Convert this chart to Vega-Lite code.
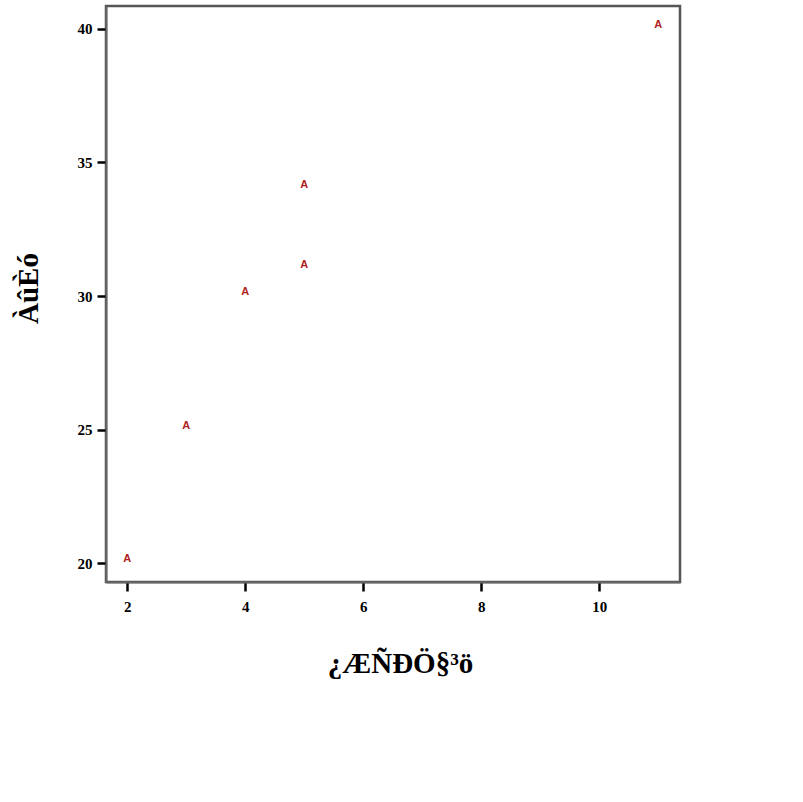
{
  "$schema": "https://vega.github.io/schema/vega-lite/v6.json",
  "autosize": "none",
  "width": 574,
  "height": 576,
  "padding": {"left": 106, "top": 6, "right": 123, "bottom": 220},
  "background": "white",
  "config": {
    "view": {"stroke": "#555555", "strokeWidth": 2.5},
    "axis": {
      "grid": false,
      "domainColor": "#666666",
      "domainWidth": 2,
      "tickColor": "black",
      "tickWidth": 2.5,
      "tickSize": 9,
      "labelFont": "Liberation Serif",
      "labelFontWeight": "bold",
      "labelFontSize": 15,
      "labelColor": "black",
      "titleFont": "Liberation Serif",
      "titleFontWeight": "bold",
      "titleFontSize": 29,
      "titleColor": "black"
    }
  },
  "data": {
    "values": [
      {"x": 2, "y": 20},
      {"x": 3, "y": 25},
      {"x": 4, "y": 30},
      {"x": 5, "y": 31},
      {"x": 5, "y": 34},
      {"x": 11, "y": 40}
    ]
  },
  "mark": {"type": "text", "text": "A", "font": "Liberation Sans", "fontSize": 11, "fontWeight": "bold", "color": "#b22222", "baseline": "middle", "dy": -4},
  "encoding": {
    "x": {
      "field": "x",
      "type": "quantitative",
      "scale": {"domain": [1.64, 11.37], "nice": false, "zero": false},
      "axis": {"values": [2, 4, 6, 8, 10], "title": "¿ÆÑÐÖ§³ö", "labelPadding": 8, "titleX": 294, "titleY": 81, "titleBaseline": "middle"}
    },
    "y": {
      "field": "y",
      "type": "quantitative",
      "scale": {"domain": [19.29, 40.86], "nice": false, "zero": false},
      "axis": {"values": [20, 25, 30, 35, 40], "title": "ÀûÈó", "labelPadding": 5, "titleX": -78, "titleY": 282, "titleBaseline": "middle", "titleAngle": -90}
    }
  }
}
